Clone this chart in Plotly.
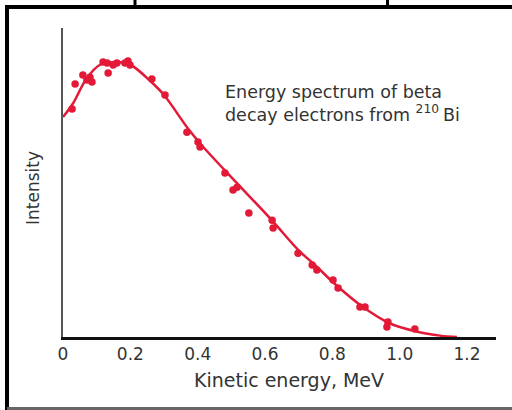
import plotly.graph_objects as go

# Measured electron counts (normalised intensity) vs kinetic energy
energy_pts = [0.027, 0.036, 0.059, 0.071, 0.080, 0.086, 0.119, 0.131, 0.134, 0.149,
              0.160, 0.184, 0.193, 0.199, 0.264, 0.303, 0.368, 0.401, 0.407, 0.481,
              0.505, 0.517, 0.552, 0.621, 0.624, 0.698, 0.740, 0.754, 0.802, 0.817,
              0.882, 0.897, 0.965, 0.962, 1.045]
intensity_pts = [0.829, 0.920, 0.953, 0.935, 0.945, 0.927, 1.000, 0.996, 0.960, 0.989,
                 0.996, 0.996, 1.004, 0.989, 0.938, 0.880, 0.745, 0.709, 0.691, 0.596,
                 0.535, 0.545, 0.451, 0.425, 0.396, 0.305, 0.262, 0.244, 0.207, 0.178,
                 0.109, 0.109, 0.055, 0.036, 0.029]

# Smooth theoretical spectrum
energy_fit = [0, 0.03, 0.07, 0.11, 0.16, 0.2, 0.26, 0.3, 0.37, 0.41, 0.47, 0.52,
              0.62, 0.7, 0.75, 0.81, 0.89, 0.97, 1.05, 1.12, 1.17]
intensity_fit = [0.80, 0.85, 0.94, 0.99, 1.0, 0.99, 0.93, 0.88, 0.76, 0.70, 0.62, 0.555,
                 0.425, 0.315, 0.26, 0.19, 0.11, 0.05, 0.02, 0.005, 0.0]

tick_vals = [0, 0.2, 0.4, 0.6, 0.8, 1.0, 1.2]
tick_text = ["0", "0.2", "0.4", "0.6", "0.8", "1.0", "1.2"]

RED = "#e31a37"
TEXT = "#333333"
FONT = "DejaVu Sans, Liberation Sans, Arial, sans-serif"

W, H = 512, 410
ML, MR, MT, MB = 63, 16, 28, 73
PW, PH = W - ML - MR, H - MT - MB


def px(x):
    return (x - ML) / PW


def py(y):
    return (H - MB - y) / PH


fig = go.Figure()
fig.add_trace(go.Scatter(x=energy_fit, y=intensity_fit, mode="lines",
                         line=dict(color=RED, width=2.5, shape="spline"),
                         hoverinfo="skip"))
fig.add_trace(go.Scatter(x=energy_pts, y=intensity_pts, mode="markers",
                         marker=dict(color=RED, size=7.5)))

fig.update_layout(
    width=W, height=H,
    margin=dict(l=ML, r=MR, t=MT, b=MB),
    paper_bgcolor="white", plot_bgcolor="white",
    showlegend=False,
    font=dict(family=FONT, color=TEXT),
    xaxis=dict(range=[0, PW / 336.7], tickvals=tick_vals, ticktext=tick_text,
               showgrid=False, zeroline=False, showline=True, linecolor="#111111",
               linewidth=3, ticks="", tickfont=dict(size=17, color=TEXT)),
    yaxis=dict(range=[0, PH / 275.0], showticklabels=False, showgrid=False,
               zeroline=False, showline=True, linecolor="#555555", linewidth=2,
               ticks=""),
)

annotations = [
    dict(text="Kinetic energy, MeV", x=px(289), y=py(380), xanchor="center",
         yanchor="middle", font=dict(size=19)),
    dict(text="Intensity", x=px(33), y=py(188), xanchor="center",
         yanchor="middle", textangle=-90, font=dict(size=17)),
    dict(text="Energy spectrum of beta<br>decay electrons from <sup>210 </sup>Bi",
         x=px(223), y=py(80), xanchor="left", yanchor="top", align="left",
         font=dict(size=17.5)),
]
for a in annotations:
    a.update(xref="paper", yref="paper", showarrow=False)
fig.update_layout(annotations=annotations)

# Frame around the figure
frame = [
    dict(x0=px(5), x1=px(512), y0=py(7), y1=py(7), line=dict(color="black", width=4)),
    dict(x0=px(7), x1=px(7), y0=py(7), y1=py(410), line=dict(color="black", width=4)),
    dict(x0=px(135), x1=px(135), y0=py(0), y1=py(7), line=dict(color="black", width=3)),
    dict(x0=px(387.5), x1=px(387.5), y0=py(0), y1=py(7), line=dict(color="black", width=3)),
    dict(x0=px(7), x1=px(512), y0=py(408.5), y1=py(408.5), line=dict(color="#666666", width=3)),
]
for s in frame:
    s.update(type="line", xref="paper", yref="paper")
fig.update_layout(shapes=frame)

fig.write_html("out.html")
